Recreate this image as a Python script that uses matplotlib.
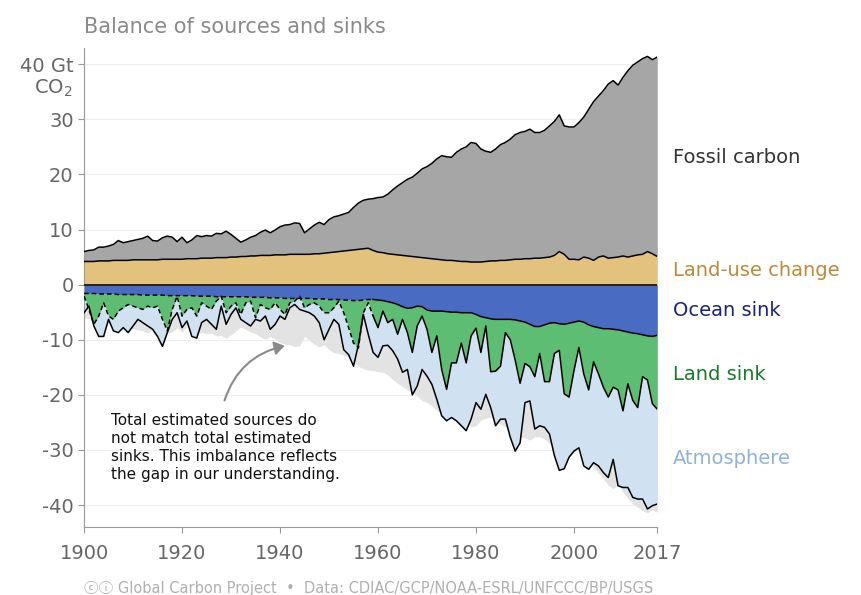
import numpy as np
import matplotlib
matplotlib.use("Agg")
import matplotlib.pyplot as plt
from matplotlib.patches import FancyArrowPatch

years = np.arange(1900, 2018)
sources_total = [6.0,6.2,6.3,6.8,6.8,7.0,7.3,8.0,7.6,7.8,
 8.0,8.2,8.4,8.8,8.0,7.9,8.5,8.8,8.6,7.8,
 8.6,7.6,8.1,8.9,8.7,8.9,8.8,9.3,9.2,9.7,
 9.1,8.4,7.7,8.1,8.6,8.9,9.5,9.9,9.4,9.9,
 10.5,10.8,10.9,11.2,11.1,9.4,10.1,10.8,11.3,10.9,
 11.8,12.3,12.5,12.8,13.1,14.0,14.8,15.3,15.5,15.6,
 15.8,15.9,16.4,17.2,17.9,18.5,19.1,19.5,20.2,21.0,
 21.4,22.0,22.8,23.4,23.2,23.1,24.0,24.6,25.0,25.8,
 25.6,24.6,24.2,24.0,24.6,25.4,25.8,26.4,27.2,27.6,
 27.8,28.2,27.6,27.6,28.0,28.8,29.6,30.8,28.8,28.6,
 28.6,29.4,30.4,31.8,33.2,34.2,35.2,36.4,37.0,36.2,
 37.6,38.8,39.8,40.4,41.0,41.4,40.8,41.3]
land_use = [4.2,4.2,4.2,4.3,4.3,4.3,4.4,4.4,4.4,4.4,
 4.5,4.5,4.5,4.5,4.5,4.5,4.6,4.6,4.6,4.6,
 4.6,4.7,4.7,4.7,4.8,4.8,4.8,4.9,4.9,4.9,
 5.0,5.0,5.1,5.1,5.2,5.2,5.3,5.3,5.3,5.4,
 5.4,5.4,5.5,5.5,5.5,5.5,5.5,5.6,5.6,5.7,
 5.8,5.9,6.0,6.1,6.2,6.3,6.4,6.5,6.6,6.2,
 5.9,5.8,5.6,5.5,5.4,5.3,5.2,5.1,5.0,4.9,
 4.8,4.7,4.6,4.5,4.4,4.4,4.3,4.2,4.2,4.1,
 4.1,4.1,4.2,4.3,4.3,4.4,4.4,4.5,4.6,4.6,
 4.7,4.7,4.8,4.8,4.9,5.0,5.3,6.0,5.5,4.6,
 4.6,4.5,5.0,4.8,4.4,5.0,5.2,4.8,4.9,5.0,
 5.2,5.0,5.2,5.4,5.5,6.0,5.6,5.1]
ocean_sink = [-1.6,-1.6,-1.6,-1.7,-1.7,-1.7,-1.7,-1.8,-1.8,-1.8,
 -1.8,-1.8,-1.9,-1.9,-1.9,-1.9,-1.9,-2.0,-2.0,-2.0,
 -2.0,-2.0,-2.0,-2.1,-2.1,-2.1,-2.1,-2.2,-2.2,-2.2,
 -2.2,-2.2,-2.2,-2.2,-2.3,-2.3,-2.3,-2.3,-2.4,-2.4,
 -2.4,-2.5,-2.5,-2.5,-2.5,-2.5,-2.5,-2.6,-2.6,-2.6,
 -2.7,-2.7,-2.7,-2.8,-2.8,-2.9,-2.9,-2.8,-2.7,-2.7,
 -2.8,-2.9,-3.1,-3.3,-3.6,-4.0,-4.3,-4.2,-3.9,-4.0,
 -4.6,-4.8,-4.8,-4.8,-4.9,-5.0,-5.0,-5.1,-5.1,-5.1,
 -5.4,-5.8,-6.0,-6.2,-6.3,-6.3,-6.3,-6.3,-6.4,-6.6,
 -6.8,-7.2,-7.6,-7.6,-7.3,-7.0,-6.9,-7.1,-7.2,-7.0,
 -6.8,-6.6,-6.8,-7.3,-7.6,-7.8,-8.0,-8.0,-8.1,-8.2,
 -8.4,-8.6,-8.8,-8.9,-9.1,-9.3,-9.4,-9.2]
# cumulative bottom of ocean + land sink
land_bottom = [-2.1,-4.5,-7.2,-5.7,-3.3,-5.7,-6.3,-4.8,-4.2,-3.6,
 -3.9,-4.2,-4.5,-3.9,-4.2,-3.9,-6.3,-8.4,-4.5,-2.1,
 -5.7,-4.5,-4.2,-5.7,-3.3,-3.9,-4.5,-3.0,-2.1,-5.1,
 -3.9,-3.3,-5.4,-3.3,-3.0,-6.0,-3.6,-4.2,-4.5,-3.3,
 -4.5,-5.4,-3.3,-3.0,-2.1,-4.2,-3.6,-3.3,-3.9,-5.1,
 -5.1,-4.2,-3.0,-5.1,-7.8,-10.6,-11.5,-5.1,-3.3,-5.7,
 -7.8,-4.8,-6.9,-6.3,-9.0,-6.3,-8.7,-12.3,-7.5,-5.7,
 -8.1,-12.3,-9.3,-15.4,-19.0,-14.2,-14.2,-10.6,-14.2,-9.3,
 -7.9,-12.3,-7.5,-15.8,-15.7,-14.8,-8.7,-10.0,-13.7,-17.9,
 -14.3,-14.9,-16.7,-12.5,-17.6,-17.6,-12.5,-11.9,-19.8,-20.4,
 -15.6,-11.4,-16.2,-19.1,-14.0,-16.2,-18.6,-20.4,-18.6,-19.1,
 -22.9,-18.0,-21.0,-22.3,-16.7,-17.3,-21.6,-22.6]
# cumulative bottom of ocean + land + atmosphere
atm_bottom = [-5.1,-3.9,-7.5,-9.4,-9.4,-6.3,-8.4,-8.7,-7.8,-8.7,
 -7.5,-6.3,-6.9,-7.5,-8.1,-9.4,-11.2,-8.7,-6.3,-5.1,
 -7.8,-6.6,-9.4,-9.7,-6.9,-6.3,-7.2,-8.1,-3.9,-7.2,
 -5.4,-4.2,-6.3,-6.9,-7.5,-6.3,-6.6,-5.7,-8.1,-7.2,
 -5.7,-6.3,-4.2,-3.6,-4.5,-4.8,-5.1,-5.7,-6.9,-10.0,
 -8.1,-6.3,-7.2,-11.8,-12.7,-14.8,-10.9,-5.4,-9.0,-12.3,
 -13.2,-11.1,-11.0,-12.0,-13.5,-15.9,-15.4,-20.0,-18.4,-15.4,
 -16.6,-18.1,-20.8,-23.8,-24.7,-24.1,-24.7,-25.6,-26.5,-24.4,
 -21.4,-22.6,-19.9,-22.3,-25.6,-24.4,-24.4,-27.7,-30.2,-28.7,
 -21.4,-21.1,-26.2,-25.6,-25.9,-27.1,-31.0,-33.7,-33.4,-31.3,
 -30.2,-29.6,-32.9,-33.5,-32.3,-32.9,-34.1,-35.0,-31.7,-36.5,
 -36.8,-36.8,-38.6,-38.9,-38.9,-40.7,-40.1,-39.8]

y_ticks = [40, 30, 20, 10, 0, -10, -20, -30, -40]
y_labels = ["40 Gt", "30", "20", "10", "0", "-10", "-20", "-30", "-40"]
x_ticks = [1900, 1920, 1940, 1960, 1980, 2000, 2017]

src = np.array(sources_total); luc = np.array(land_use)
oc = np.array(ocean_sink); lb = np.array(land_bottom); ab = np.array(atm_bottom)

fig = plt.figure(figsize=(8.62, 5.95), dpi=100)
ax = fig.add_axes([0.0975, 0.114, 0.665, 0.806])
ax.set_xlim(1900, 2017)
ax.set_ylim(-44, 43)
for t in y_ticks:
    ax.axhline(t, color="#eeeeee", lw=0.8, zorder=0)

ax.fill_between(years, 0, -src, color="#e3e3e3", lw=0, zorder=1)
ax.fill_between(years, 0, oc, color="#4a6bc2", lw=0, zorder=2)
ax.fill_between(years, oc, lb, color="#5dbd73", lw=0, zorder=2)
ax.fill_between(years, lb, ab, color="#d0e1f1", lw=0, zorder=2)
ax.fill_between(years, 0, luc, color="#e3c27e", lw=0, zorder=2)
ax.fill_between(years, luc, src, color="#a6a6a6", lw=0, zorder=2)

pre = years <= 1959
post = years >= 1959
kw = dict(color="black", lw=1.1, zorder=4)
ax.plot(years, src, **kw)
ax.plot(years, luc, **kw)
ax.axhline(0, color="#222222", lw=1.4, zorder=4)
ax.plot(years[pre], oc[pre], ls=(0, (3, 2)), **kw)
ax.plot(years[post], oc[post], **kw)
ax.plot(years[pre], lb[pre], ls=(0, (3, 2)), **kw)
ax.plot(years[post], lb[post], **kw)
ax.plot(years, ab, **kw)

for s in ["top", "right"]:
    ax.spines[s].set_visible(False)
ax.spines["left"].set_color("#999999")
ax.spines["bottom"].set_color("#999999")
ax.set_yticks(y_ticks)
ax.set_yticklabels(y_labels, fontsize=14, color="#666666")
ax.set_xticks(x_ticks)
ax.set_xticklabels([str(x) for x in x_ticks], fontsize=14, color="#666666")
ax.tick_params(axis="both", length=4, color="#999999")
ax.tick_params(axis="x", pad=8)
fig.text(0.0975 - 0.013, 1 - 88/595, "CO$_2$", fontsize=14, color="#666666", ha="right", va="center")

fig.text(0.097, 0.955, "Balance of sources and sinks", fontsize=15, color="#8a8a8a", va="center")
lx = 0.781
fig.text(lx, 1 - 158/595, "Fossil carbon", fontsize=14, color="#333333", va="center")
fig.text(lx, 1 - 271/595, "Land-use change", fontsize=14, color="#c0893a", va="center")
fig.text(lx, 1 - 311/595, "Ocean sink", fontsize=14, color="#1a2378", va="center")
fig.text(lx, 1 - 375/595, "Land sink", fontsize=14, color="#177a2b", va="center")
fig.text(lx, 1 - 459/595, "Atmosphere", fontsize=14, color="#8fb3d8", va="center")

ax.text(1905.5, -29.5, "Total estimated sources do\nnot match total estimated\nsinks. This imbalance reflects\nthe gap in our understanding.",
        fontsize=11, color="#111111", va="center", ha="left", linespacing=1.25, zorder=5)
arr = FancyArrowPatch((1928.5, -21.5), (1941.5, -11.0), connectionstyle="arc3,rad=-0.3",
                      arrowstyle="-|>,head_length=6,head_width=4", color="#8a8a8a", lw=1.5, zorder=5)
ax.add_patch(arr)

fig.text(0.097, 1 - 589/595, "ⓒⓘ Global Carbon Project  •  Data: CDIAC/GCP/NOAA-ESRL/UNFCCC/BP/USGS",
         fontsize=10.5, color="#b0b0b0", va="center",
         family=["DejaVu Sans", "Noto Sans CJK SC"])

fig.savefig("out.png", dpi=100)
